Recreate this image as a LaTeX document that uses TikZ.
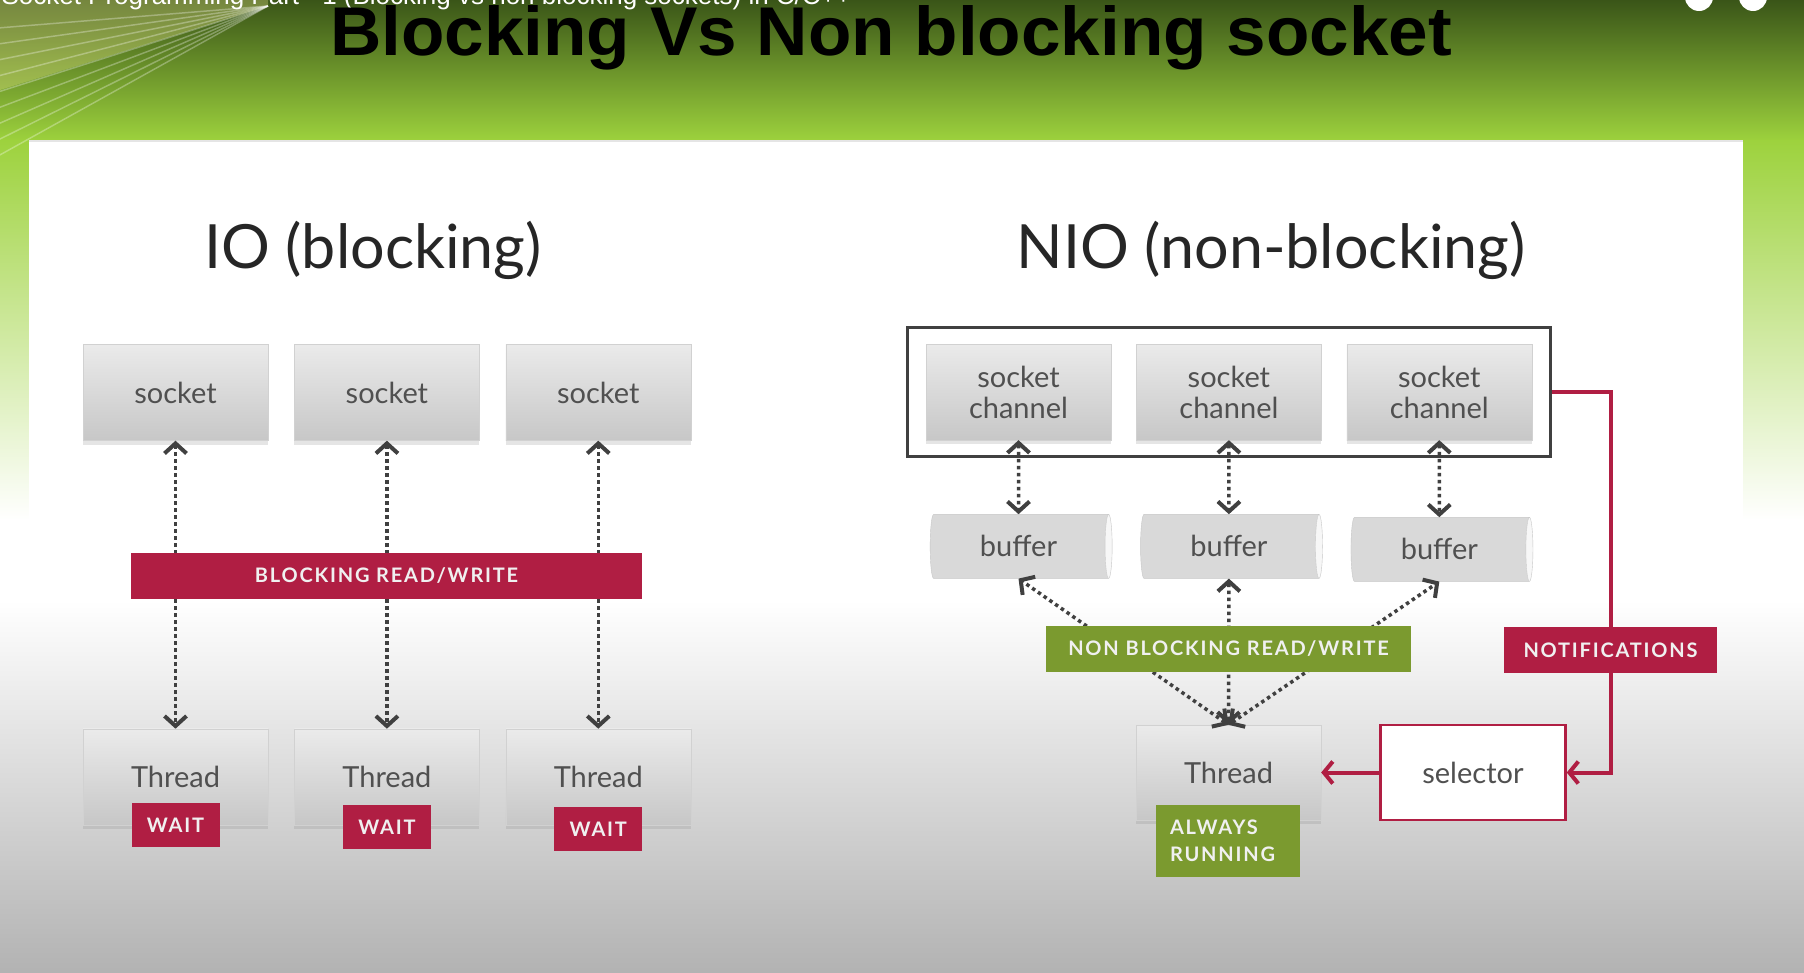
\documentclass[tikz,border=0pt]{standalone}
\usepackage{fontspec}
\setmainfont{Lato}
\newfontfamily\headfont{Liberation Sans}
\newfontfamily\tagfont[LetterSpace=9]{Lato}
\usepackage{tikz}
\usetikzlibrary{shapes.geometric, arrows.meta, positioning, fit, shadows}

\definecolor{nioRed}{HTML}{B01E43}
\definecolor{nioGreen}{HTML}{7B9A2F}
\definecolor{labelGray}{HTML}{505050}
\definecolor{bandTop}{HTML}{3A5518}
\definecolor{bandMid}{HTML}{78A82E}
\definecolor{bandLime}{HTML}{9DD23D}

\begin{document}
\begin{tikzpicture}[
    x=1pt, y=-1pt,
    box/.style={draw=black!18, top color=black!8, bottom color=black!22, minimum width=185pt, minimum height=96pt, font=\fontsize{29}{31}\selectfont, text=labelGray, align=center, drop shadow={shadow xshift=0pt, shadow yshift=-4pt, opacity=0.2}},
    buffer/.style={cylinder, shape border rotate=0, draw=black!22, cylinder uses custom fill, cylinder body fill=black!15, cylinder end fill=black!3, aspect=0.25, minimum width=64pt, minimum height=182pt, font=\fontsize{29}{31}\selectfont, text=labelGray},
    selbox/.style={draw=nioRed, line width=2.5pt, fill=white, minimum width=185pt, minimum height=95pt, font=\fontsize{29}{31}\selectfont, text=labelGray},
    chanframe/.style={draw=black!75, line width=3pt, inner xsep=18pt, inner ysep=16pt},
    heading/.style={font=\fontsize{61}{70}\selectfont, text=black!85, anchor=base},
    tag/.style={font=\tagfont\bfseries\fontsize{20}{27}\selectfont, text=white!94!black, inner sep=0pt, minimum height=46pt},
    redtag/.style={tag, fill=nioRed},
    greentag/.style={tag, fill=nioGreen},
    dotlink/.style={{Straight Barb[length=10pt,width=22pt,line width=4pt]}-{Straight Barb[length=10pt,width=22pt,line width=4pt]}, line width=3.5pt, draw=black!75, dash pattern=on 3.5pt off 3.5pt},
    redarrow/.style={-{Straight Barb[length=9pt,width=22pt]}, line width=4pt, draw=nioRed}
]
\useasboundingbox (0,0) rectangle (1804,972);

% Backdrop
\fill[top color=bandTop, middle color=bandMid, bottom color=bandLime] (0,0) rectangle (1804,141);
\fill[top color=bandLime, bottom color=white] (0,140) rectangle (1804,520);
\fill[white] (0,519) rectangle (1804,601);
\fill[top color=white, bottom color=black!30] (0,600) rectangle (1804,972);
\fill[yellow!40!white, opacity=0.3] (0,0) -- (268,0) -- (268,6) -- (0,90) -- cycle;
\foreach \k in {0,...,8}
    \draw[white, opacity=0.3, line width=1.5pt] (268,6) -- (-2,28+16*\k);
\fill[white] (29,140) rectangle (1743,601);
\draw[black!10, line width=2pt] (29,141) -- (1743,141);

% Video overlay
\node[font=\headfont\fontsize{26}{30}\selectfont, text=white, anchor=base west] (yt) at (-2,4) {Socket Programming Part - 1 (Blocking vs non blocking sockets) in C/C++};
\node[circle, fill=white, minimum size=28pt, inner sep=0pt] (ic1) at (1699,-3) {};
\node[circle, fill=white, minimum size=28pt, inner sep=0pt] (ic2) at (1753,-3) {};

% Title
\node[font=\headfont\bfseries\fontsize{69}{80}\selectfont, anchor=base, xscale=1.03, transform shape] (ttl) at (891,55) {Blocking Vs Non blocking socket};

% IO (blocking)
\node[heading] (io) at (373,268) {IO (blocking)};
\node[box] (s1) at (175.5,392.5) {socket};
\node[box, right=26pt of s1] (s2) {socket};
\node[box, right=26pt of s2] (s3) {socket};
\node[box, below=288pt of s1] (t1) {Thread};
\node[box, below=288pt of s2] (t2) {Thread};
\node[box, below=288pt of s3] (t3) {Thread};

\draw[dotlink] (s1) -- (t1);
\draw[dotlink] (s2) -- (t2);
\draw[dotlink] (s3) -- (t3);

\node[redtag, minimum width=511pt] (brw) at (386.5,576) {BLOCKING READ/WRITE};
\node[redtag, minimum width=88pt, minimum height=44pt] (w1) at (t1.south) {WAIT};
\node[redtag, minimum width=88pt, minimum height=44pt] (w2) at ([yshift=-2pt]t2.south) {WAIT};
\node[redtag, minimum width=88pt, minimum height=44pt] (w3) at ([yshift=-4pt]t3.south) {WAIT};

% NIO (non-blocking)
\node[heading] (nio) at (1271,268) {NIO (non-blocking)};
\node[box] (c1) at (1018.5,392) {socket\\channel};
\node[box, right=25pt of c1] (c2) {socket\\channel};
\node[box, right=25pt of c2] (c3) {socket\\channel};
\node[chanframe, fit=(c1)(c3)] (frm) {};

\node[buffer, below=74pt of c1] (b1) {buffer};
\node[buffer, below=74pt of c2] (b2) {buffer};
\node[buffer, below=77pt of c3] (b3) {buffer};

\node[box, minimum height=95pt] (tn) at (1228.5,772.5) {Thread};
\node[selbox, right=58pt of tn] (sel) {selector};

\draw[dotlink] (c1) -- (b1);
\draw[dotlink] (c2) -- (b2);
\draw[dotlink] (c3) -- (b3);
\draw[dotlink] (tn.north) -- (b1.south);
\draw[dotlink] (tn.north) -- (b2.south);
\draw[dotlink] (tn.north) -- (b3.south);

\coordinate (nt) at (1610.5,650);
\draw[redarrow] (frm.east) -| (nt) |- (sel.east);
\draw[redarrow] (sel) -- (tn);

\node[greentag, minimum width=365pt] (nbrw) at (1228.5,649) {NON BLOCKING READ/WRITE};
\node[redtag, minimum width=213pt] (ntf) at (nt) {NOTIFICATIONS};
\node[greentag, minimum width=144pt, minimum height=72pt, text width=116pt, align=left] (alw) at (1228,841) {ALWAYS\\RUNNING};

\end{tikzpicture}
\end{document}
